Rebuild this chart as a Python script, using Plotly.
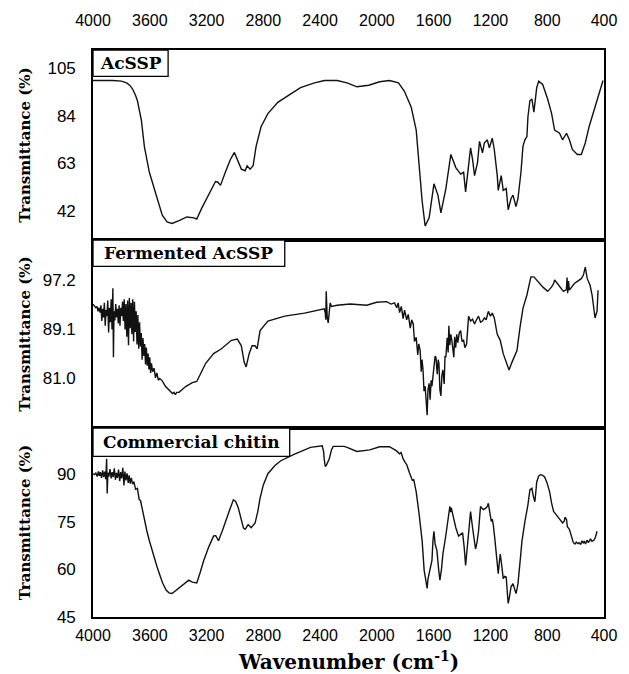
import plotly.graph_objects as go

# ---- FTIR spectra: wavenumber (cm-1) and transmittance (%) ----
wn_acssp = [4000, 3930, 3861, 3800, 3763, 3740, 3721, 3700, 3687, 3659, 3638, 3603, 3554, 3512,
            3478, 3443, 3394, 3339, 3290, 3269, 3234, 3185, 3137, 3120, 3102, 3067, 3032, 3004,
            2983, 2955, 2928, 2914, 2893, 2872, 2851, 2816, 2768, 2698, 2628, 2538, 2440, 2370,
            2280, 2210, 2141, 2057, 1981, 1911, 1848, 1807, 1758, 1723, 1702, 1681, 1660, 1632,
            1598, 1570, 1549, 1514, 1479, 1444, 1410, 1389, 1375, 1354, 1340, 1326, 1312, 1291,
            1277, 1256, 1243, 1222, 1208, 1187, 1173, 1152, 1145, 1124, 1110, 1089, 1075, 1055,
            1041, 1020, 1006, 985, 971, 957, 943, 936, 922, 908, 894, 874, 860, 832, 797, 769,
            748, 713, 692, 664, 644, 623, 588, 560, 532, 505, 470, 435, 407]
t_acssp = [99.7, 99.8, 99.7, 99.4, 98.6, 97.5, 95.9, 93.0, 90.7, 82.0, 70.4, 59.0, 48.7, 40.0,
           37.0, 36.3, 37.6, 39.2, 38.8, 38.3, 43.1, 48.9, 54.9, 54.6, 53.2, 59.1, 64.7, 67.8,
           64.7, 60.4, 59.7, 61.9, 60.4, 61.9, 70.5, 79.2, 85.0, 90.0, 92.9, 96.5, 98.6, 99.7,
           99.7, 98.6, 96.9, 97.6, 99.1, 99.7, 98.6, 95.0, 87.8, 77.7, 61.8, 46.1, 35.2, 38.8,
           53.9, 48.9, 41.0, 51.8, 66.9, 61.1, 58.2, 59.0, 50.3, 61.8, 69.8, 64.7, 57.5, 63.3,
           72.7, 67.6, 72.0, 73.4, 69.8, 74.1, 69.1, 57.5, 51.0, 57.5, 51.0, 51.8, 42.4, 47.4,
           48.9, 43.8, 47.4, 59.0, 70.5, 73.4, 74.8, 83.5, 90.7, 91.5, 85.7, 96.5, 99.4, 97.9,
           91.5, 85.0, 77.7, 76.3, 73.4, 76.3, 73.4, 69.1, 66.9, 66.9, 72.0, 79.2, 86.4, 93.6, 99.7]

wn_ferm = [4000, 3990, 3980, 3972, 3965, 3958, 3950, 3944, 3938, 3932, 3926, 3920, 3914, 3908,
           3902, 3896, 3890, 3884, 3878, 3872, 3866, 3860, 3856, 3852, 3846, 3840, 3834, 3828,
           3822, 3816, 3810, 3804, 3798, 3792, 3786, 3780, 3774, 3768, 3762, 3756, 3750, 3744,
           3738, 3732, 3726, 3720, 3714, 3708, 3702, 3696, 3690, 3684, 3678, 3672, 3666, 3660,
           3654, 3648, 3642, 3636, 3630, 3624, 3618, 3612, 3606, 3600, 3594, 3588, 3580, 3570,
           3560, 3550, 3540, 3530, 3512, 3490, 3464, 3440, 3429, 3420, 3410, 3394, 3345, 3300,
           3269, 3206, 3150, 3095, 3025, 2983, 2955, 2935, 2921, 2900, 2879, 2858, 2844, 2823,
           2768, 2649, 2510, 2371, 2364, 2360, 2357, 2350, 2343, 2336, 2329, 2320, 2280, 2189,
           2071, 2002, 1932, 1900, 1876, 1860, 1850, 1840, 1828, 1815, 1805, 1790, 1779, 1765,
           1755, 1744, 1735, 1723, 1712, 1705, 1695, 1688, 1682, 1675, 1668, 1660, 1652, 1646,
           1640, 1632, 1625, 1618, 1612, 1600, 1590, 1584, 1575, 1568, 1563, 1556, 1549, 1542,
           1535, 1526, 1520, 1514, 1505, 1498, 1493, 1486, 1479, 1472, 1465, 1458, 1452, 1445,
           1437, 1430, 1420, 1410, 1400, 1389, 1380, 1368, 1354, 1340, 1326, 1312, 1298, 1284,
           1270, 1256, 1243, 1230, 1215, 1200, 1187, 1173, 1152, 1131, 1110, 1083, 1069, 1048,
           1013, 992, 971, 943, 915, 894, 866, 830, 797, 770, 755, 748, 735, 720, 700, 686,
           665, 660, 656, 650, 644, 630, 609, 585, 560, 545, 532, 518, 498, 484, 470, 463,
           456, 449, 442]
t_ferm = [93.2, 92.9, 92.6, 92.8, 92.0, 92.6, 91.8, 93.0, 90.4, 92.4, 91.0, 93.4, 89.6, 92.2,
          91.2, 93.8, 88.5, 92.6, 90.2, 94.0, 89.0, 95.8, 84.4, 92.0, 90.5, 93.2, 91.0, 92.4,
          90.0, 93.0, 89.6, 92.6, 91.2, 93.6, 90.4, 94.0, 89.0, 93.2, 87.8, 93.8, 86.4, 94.2,
          89.2, 93.4, 88.2, 94.0, 87.0, 93.6, 88.6, 92.0, 86.5, 91.4, 85.8, 90.2, 86.2, 88.4,
          84.0, 87.6, 84.6, 86.6, 83.2, 86.0, 83.0, 85.0, 82.4, 84.4, 81.8, 83.4, 82.0, 82.6,
          81.0, 81.8, 80.6, 80.9, 80.5, 79.6, 79.0, 78.4, 78.6, 78.2, 78.6, 78.6, 79.6, 80.2,
          80.4, 83.4, 85.0, 85.8, 87.2, 87.4, 86.3, 83.6, 82.8, 85.0, 86.3, 86.3, 85.8, 88.8,
          90.4, 91.2, 91.7, 92.4, 91.8, 90.6, 95.3, 91.0, 90.1, 92.0, 93.4, 92.8, 93.0, 93.2,
          93.0, 93.5, 93.6, 93.2, 93.4, 92.6, 93.4, 91.8, 92.8, 90.8, 92.2, 90.6, 91.5, 89.2,
          90.6, 89.9, 87.0, 87.7, 84.8, 86.6, 85.5, 82.0, 84.0, 82.3, 78.8, 79.6, 76.5, 74.8,
          79.0, 80.1, 77.4, 80.6, 79.6, 83.0, 84.6, 84.4, 81.6, 84.0, 83.4, 79.0, 78.0, 81.4,
          82.3, 80.0, 84.6, 84.4, 87.6, 85.2, 89.6, 86.4, 88.2, 87.2, 85.6, 84.4, 87.8, 86.0,
          88.2, 86.8, 88.4, 88.8, 87.0, 87.2, 86.0, 86.6, 91.2, 90.4, 90.7, 89.9, 90.6, 91.2,
          90.2, 90.4, 90.9, 90.6, 92.0, 91.2, 91.7, 90.9, 88.2, 87.2, 85.0, 83.4, 82.3, 83.6,
          85.5, 89.3, 92.5, 94.7, 97.7, 97.7, 96.9, 96.0, 95.3, 96.0, 96.6, 97.2, 96.8, 96.3, 95.8, 95.3,
          95.6, 97.6, 95.0, 97.0, 95.5, 96.0, 96.6, 97.0, 97.4, 98.0, 99.3, 97.4, 96.3, 94.7, 92.5, 90.9,
          91.5, 92.0, 95.5]

wn_chitin = [4000, 3990, 3980, 3970, 3962, 3955, 3948, 3940, 3932, 3925, 3918, 3910, 3904, 3900,
             3895, 3888, 3880, 3872, 3865, 3858, 3850, 3842, 3835, 3828, 3820, 3812, 3805, 3798,
             3790, 3782, 3775, 3768, 3760, 3752, 3745, 3738, 3730, 3721, 3712, 3700, 3687, 3675,
             3665, 3659, 3648, 3638, 3620, 3603, 3585, 3568, 3550, 3533, 3510, 3485, 3465, 3443,
             3420, 3394, 3360, 3325, 3300, 3269, 3245, 3220, 3185, 3150, 3135, 3116, 3090, 3067,
             3040, 3011, 2995, 2976, 2955, 2940, 2928, 2907, 2886, 2858, 2840, 2823, 2800, 2768,
             2720, 2677, 2580, 2468, 2385, 2375, 2371, 2364, 2357, 2350, 2336, 2320, 2308, 2231,
             2210, 2141, 2050, 1981, 1911, 1862, 1840, 1830, 1814, 1800, 1790, 1772, 1750, 1740,
             1723, 1702, 1681, 1667, 1656, 1650, 1646, 1640, 1632, 1612, 1605, 1598, 1590, 1577,
             1565, 1556, 1545, 1535, 1515, 1500, 1493, 1486, 1480, 1476, 1465, 1455, 1444, 1430,
             1424, 1410, 1396, 1385, 1375, 1365, 1354, 1345, 1340, 1326, 1315, 1305, 1295, 1284,
             1270, 1260, 1250, 1235, 1222, 1215, 1205, 1194, 1187, 1180, 1170, 1159, 1145, 1138,
             1131, 1120, 1110, 1100, 1089, 1080, 1075, 1068, 1055, 1041, 1030, 1020, 1012, 1006,
             990, 978, 957, 945, 936, 922, 908, 898, 887, 880, 874, 860, 846, 832, 818, 800,
             783, 770, 755, 740, 727, 710, 692, 680, 675, 664, 658, 644, 630, 616, 605, 595,
             585, 575, 565, 555, 545, 539, 530, 520, 510, 505, 495, 485, 470, 460, 449]
t_chitin = [90.1, 89.8, 90.3, 89.2, 90.8, 89.4, 90.6, 88.8, 91.2, 89.0, 90.8, 88.4, 94.8, 83.9,
            90.4, 89.2, 91.6, 88.6, 90.6, 89.0, 91.8, 88.2, 90.4, 88.8, 91.4, 87.8, 90.6, 88.6,
            92.0, 86.4, 90.8, 88.0, 90.2, 87.2, 89.6, 87.0, 88.8, 86.8, 87.6, 85.2, 85.5, 82.0,
            81.6, 80.3, 77.6, 75.1, 72.0, 69.0, 66.0, 63.8, 61.0, 58.7, 55.8, 53.5, 52.6, 52.4,
            53.2, 54.0, 55.4, 56.6, 56.0, 55.7, 59.0, 62.8, 67.0, 70.5, 70.6, 69.0, 72.0, 75.1,
            78.4, 81.9, 81.4, 79.3, 75.1, 73.0, 72.6, 74.1, 73.1, 74.6, 78.0, 82.4, 86.6, 90.1,
            92.6, 94.2, 96.3, 98.4, 98.9, 97.0, 94.7, 92.4, 92.7, 93.6, 94.7, 97.6, 98.7, 98.7,
            98.4, 97.1, 97.6, 98.6, 98.6, 97.3, 96.4, 96.8, 94.7, 93.6, 93.0, 90.6, 88.0, 88.2,
            84.4, 77.2, 68.9, 59.7, 56.0, 55.2, 54.0, 57.0, 58.6, 62.8, 69.0, 72.0, 68.0, 65.9,
            60.0, 56.6, 60.0, 64.8, 70.5, 75.1, 77.2, 79.8, 78.0, 79.4, 77.2, 75.0, 73.1, 71.2,
            70.5, 71.0, 71.5, 67.0, 61.2, 66.0, 72.0, 76.0, 78.2, 73.1, 69.0, 66.4, 68.4, 72.0,
            79.8, 79.4, 78.8, 79.2, 79.8, 80.8, 78.0, 75.1, 75.8, 74.1, 70.0, 64.8, 58.6, 62.0,
            64.8, 61.0, 57.1, 57.8, 57.6, 52.0, 49.3, 50.8, 54.5, 55.5, 53.8, 52.4, 54.0, 55.5,
            63.0, 68.9, 75.1, 78.0, 80.3, 85.0, 85.5, 83.0, 81.3, 84.5, 87.5, 89.4, 89.8, 89.6, 89.1, 87.0,
            84.4, 81.0, 78.2, 77.4, 76.7, 75.8, 74.6, 75.2, 76.4, 75.7, 73.4, 72.6, 70.4, 68.4, 68.0, 68.6,
            68.1, 68.4, 67.8, 69.0, 68.2, 68.9, 68.0, 69.2, 68.4, 68.9, 69.6, 68.8, 69.2, 70.2, 72.0]

# panel labels, y-axis ranges and tick values (top to bottom)
panel_names = ["AcSSP", "Fermented AcSSP", "Commercial chitin"]
y_ranges = [[29, 113.2], [72.7, 103.8], [45, 104.5]]
y_ticks = [[42, 63, 84, 105], [81.0, 89.1, 97.2], [45, 60, 75, 90]]
y_ticktext = [["42", "63", "84", "105"], ["81.0", "89.1", "97.2"], ["45", "60", "75", "90"]]
x_ticks = [4000, 3600, 3200, 2800, 2400, 2000, 1600, 1200, 800, 400]
spectra = [(wn_acssp, t_acssp), (wn_ferm, t_ferm), (wn_chitin, t_chitin)]

W, H = 629, 674
L, R, T, B = 93, 19, 38, 57
plot_h = H - T - B
# panel pixel bounds (top, bottom) and label box right/bottom edges
panel_px = [(38, 232), (232, 424), (424, 617)]
box_px = [(169, 65), (287, 259), (292, 453)]


def py(ypix):
    return (H - B - ypix) / plot_h


def px(xpix):
    return (xpix - L) / (W - L - R)


fig = go.Figure()
axis_ids = ["3", "2", ""]  # panel 1 -> x3/y3, panel 2 -> x2/y2, panel 3 -> x/y
serif = "DejaVu Serif, serif"
sans = "Liberation Sans, Arial, sans-serif"

for i, (wn, tr) in enumerate(spectra):
    aid = axis_ids[i]
    fig.add_trace(go.Scatter(x=wn, y=tr, mode="lines",
                             line=dict(color="#111111", width=1.4),
                             xaxis="x" + aid, yaxis="y" + aid, showlegend=False))
    top, bot = panel_px[i]
    xa = dict(range=[4000, 400], showline=True, mirror=True, linecolor="black", linewidth=1.6,
              showgrid=False, zeroline=False, ticks="", tickvals=x_ticks,
              tickfont=dict(family=sans, size=16, color="black"),
              anchor="y" + aid, domain=[0, 1])
    if i == 0:
        xa.update(side="top", showticklabels=True, ticklabelstandoff=16)
    elif i == 2:
        xa.update(side="bottom", showticklabels=True, ticklabelstandoff=3)
    else:
        xa.update(showticklabels=False)
    if aid:
        xa["matches"] = "x"
    ya = dict(range=y_ranges[i], domain=[py(bot), py(top)], showline=True, mirror=True,
              linecolor="black", linewidth=1.6, showgrid=False, zeroline=False, ticks="",
              tickvals=y_ticks[i], ticktext=y_ticktext[i], ticklabelstandoff=12,
              tickfont=dict(family=sans, size=17, color="black"), anchor="x" + aid)
    fig.update_layout(**{"xaxis" + aid: xa, "yaxis" + aid: ya})

    # sample name in a boxed label at the top-left corner
    bx, by = box_px[i]
    fig.add_shape(type="rect", xref="paper", yref="paper", x0=0, x1=px(bx),
                  y0=py(by), y1=py(top), line=dict(color="black", width=1.3),
                  fillcolor="white")
    fig.add_annotation(text="<b>" + panel_names[i] + "</b>", xref="paper", yref="paper",
                       x=px((L + bx) / 2), y=py((top + by) / 2), xanchor="center",
                       yanchor="middle", showarrow=False,
                       font=dict(family=serif, size=17, color="black"))

    # y-axis title for each panel
    fig.add_annotation(text="<b>Transmittance (%)</b>", xref="paper", yref="paper",
                       x=px(24), y=py((top + bot) / 2), textangle=-90, xanchor="center",
                       yanchor="middle", showarrow=False,
                       font=dict(family=serif, size=15, color="black"))

fig.add_annotation(text="<b>Wavenumber (cm<sup>-1</sup>)</b>", xref="paper", yref="paper",
                   x=px(352), y=py(662), xanchor="center", yanchor="middle", showarrow=False,
                   font=dict(family=serif, size=20, color="black"))

fig.update_layout(width=W, height=H, margin=dict(l=L, r=R, t=T, b=B),
                  paper_bgcolor="white", plot_bgcolor="white")

fig.write_html("out.html")
